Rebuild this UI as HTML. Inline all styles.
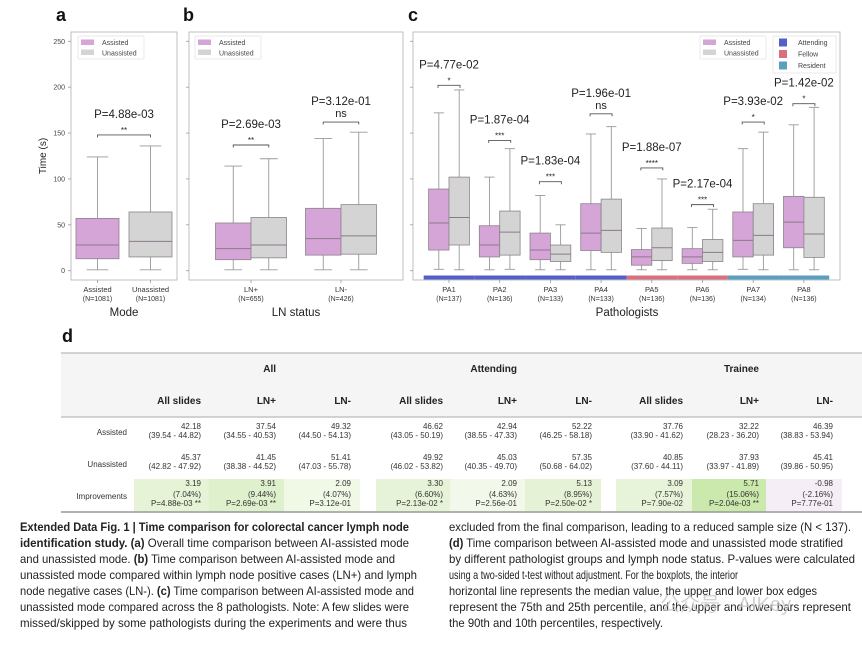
<!DOCTYPE html>
<html><head><meta charset="utf-8"><style>
html,body{margin:0;padding:0;background:#fff;}
svg{display:block;font-family:"Liberation Sans",sans-serif;}
</style></head><body>
<svg id="fig" width="862" height="646" viewBox="0 0 862 646" xmlns="http://www.w3.org/2000/svg">
<rect x="0" y="0" width="862" height="646" fill="#fff"/>
<g id="charts"></g>
<g id="table"></g>
<g id="caption"></g>
</svg>
<script>
// ---- data ----
const panelAcats = ["Assisted", "Unassisted"];
const panelAn = ["(N=1081)", "(N=1081)"];
// [low, q1, median, q3, high]
const panelAassisted = [[1, 13, 28, 57, 124]];
const panelAunassisted = [[1, 15, 32, 64, 136]];
const panelAp = ["P=4.88e-03"];
const panelAstars = ["**"];
const panelAbracket = [148];

const panelBcats = ["LN+", "LN-"];
const panelBn = ["(N=655)", "(N=426)"];
const panelBassisted = [[1, 12, 24, 52, 114], [1, 17, 35, 68, 144]];
const panelBunassisted = [[1, 14, 28, 58, 122], [1, 18, 38, 72, 151]];
const panelBp = ["P=2.69e-03", "P=3.12e-01"];
const panelBstars = ["**", "ns"];
const panelBbracket = [137, 162];

const panelCcats = ["PA1","PA2","PA3","PA4","PA5","PA6","PA7","PA8"];
const panelCn = ["(N=137)","(N=136)","(N=133)","(N=133)","(N=136)","(N=136)","(N=134)","(N=136)"];
const panelCassisted = [[1.5,22.5,52,89,172],[1,15,28,49,102],[1,12,22.5,41,82],[1,22,41,73,149],[1,6,15,23,46],[1,8,15,24,47],[1.5,15,33,64,133],[1,25,53,81,159]];
const panelCunassisted = [[1,28,58,102,197],[1.5,17,42,65,133],[1,10,18,28,50],[1,20,44,78,157],[1,11,25,46.5,100],[1,10,20,34,67],[1,17,38.5,73,151],[1,14.5,40,80,178]];
const panelCp = ["P=4.77e-02","P=1.87e-04","P=1.83e-04","P=1.96e-01","P=1.88e-07","P=2.17e-04","P=3.93e-02","P=1.42e-02"];
const panelCstars = ["*","***","***","ns","****","***","*","*"];
const panelCbracket = [202,142,97,171,112,72,162,182];
const panelCgroup = ["Attending","Attending","Attending","Attending","Fellow","Fellow","Resident","Resident"];
const yTicks = [0, 50, 100, 150, 200, 250];

const NS = "http://www.w3.org/2000/svg";
function mk(parent, tag, attrs, text) {
  const e = document.createElementNS(NS, tag);
  for (const k in attrs) e.setAttribute(k, attrs[k]);
  if (text !== undefined) e.textContent = text;
  parent.appendChild(e);
  return e;
}
function yScale(v) { return 270.7 - v * 0.9176; }
const PINK = "#d5a5d8", GRAY = "#d4d4d4", EDGE = "#8c828c";

const charts = document.getElementById("charts");

function frame(x0, x1, label, lx, axisLabels) {
  const f = mk(charts, "rect", {x:x0, y:32, width:x1-x0, height:248, fill:"none", stroke:"#b0b0b0", "stroke-width":0.8});
  
  
  const pl = mk(charts, "text", {x:lx, y:21, "font-size":18, "font-weight":"bold", fill:"#111"}, label);
  
  
  yTicks.forEach(t => {
    const tk = mk(charts, "line", {x1:x0-3, x2:x0, y1:yScale(t), y2:yScale(t), stroke:"#999", "stroke-width":0.8});
    
    
    if (axisLabels) {
      const tl = mk(charts, "text", {x:x0-6, y:yScale(t)+2.5, "font-size":7, "text-anchor":"end", fill:"#444"}, String(t));
      
      
    }
  });
}

function box(cx, w, d, fill, name) {
  const g = mk(charts, "g", {});
  
  
  const [lo, q1, md, q3, hi] = d;
  mk(g, "line", {x1:cx, x2:cx, y1:yScale(lo), y2:yScale(q1), stroke:"#999", "stroke-width":0.9});
  mk(g, "line", {x1:cx, x2:cx, y1:yScale(q3), y2:yScale(hi), stroke:"#999", "stroke-width":0.9});
  mk(g, "line", {x1:cx-w/4, x2:cx+w/4, y1:yScale(lo), y2:yScale(lo), stroke:"#999", "stroke-width":0.9});
  mk(g, "line", {x1:cx-w/4, x2:cx+w/4, y1:yScale(hi), y2:yScale(hi), stroke:"#999", "stroke-width":0.9});
  mk(g, "rect", {x:cx-w/2, y:yScale(q3), width:w, height:yScale(q1)-yScale(q3), fill:fill, stroke:EDGE, "stroke-width":0.8});
  mk(g, "line", {x1:cx-w/2, x2:cx+w/2, y1:yScale(md), y2:yScale(md), stroke:"#8a7a8a", "stroke-width":1});
}

function bracket(xa, xb, v, p, star) {
  const y = yScale(v);
  const g = mk(charts, "g", {});
  
  
  mk(g, "path", {d:`M${xa} ${y+2.5} L${xa} ${y} L${xb} ${y} L${xb} ${y+2.5}`, fill:"none", stroke:"#555", "stroke-width":0.9});
  const cx = (xa+xb)/2;
  mk(g, "text", {x:cx, y:y-17, "font-size":11.5, "text-anchor":"middle", fill:"#222"}, p);
  if (star === "ns") mk(g, "text", {x:cx, y:y-5, "font-size":11, "text-anchor":"middle", fill:"#222"}, star);
  else mk(g, "text", {x:cx, y:y-2, "font-size":8, "text-anchor":"middle", fill:"#222"}, star);
}

function xlabels(centers, cats, ns) {
  centers.forEach((c, i) => {
    const t = mk(charts, "text", {x:c, y:292, "font-size":7.5, "text-anchor":"middle", fill:"#333"}, cats[i]);
    
    
    const t2 = mk(charts, "text", {x:c, y:301, "font-size":7, "text-anchor":"middle", fill:"#333"}, ns[i]);
    
    
    mk(charts, "line", {x1:c, x2:c, y1:280, y2:283, stroke:"#999", "stroke-width":0.8});
  });
}

function legend(x, y) {
  const g = mk(charts, "g", {});
  
  
  mk(g, "rect", {x:x, y:y, width:66, height:23, fill:"#fff", stroke:"#e4e4e4", "stroke-width":0.8, rx:1.5});
  mk(g, "rect", {x:x+3, y:y+3.5, width:13, height:5.5, fill:PINK});
  mk(g, "rect", {x:x+3, y:y+13.5, width:13, height:5.5, fill:GRAY});
  mk(g, "text", {x:x+24, y:y+9, "font-size":7, fill:"#444"}, "Assisted");
  mk(g, "text", {x:x+24, y:y+19.5, "font-size":7, fill:"#444"}, "Unassisted");
}

// Panel a
frame(71, 177, "a", 56, true);
const yt = mk(charts, "text", {x:0, y:0, "font-size":10, "text-anchor":"middle", fill:"#222", transform:"translate(46,156) rotate(-90)"}, "Time (s)");


const aCenters = [97.5, 150.5];
box(aCenters[0], 43, panelAassisted[0], PINK, "box-assisted");
box(aCenters[1], 43, panelAunassisted[0], GRAY, "box-unassisted");
bracket(aCenters[0], aCenters[1], panelAbracket[0], panelAp[0], panelAstars[0]);
xlabels(aCenters, panelAcats, panelAn);
mk(charts, "text", {x:124, y:316, "font-size":11.5, "text-anchor":"middle", fill:"#222"}, "Mode");
legend(78, 36);

// Panel b
frame(189, 403, "b", 183, false);
const bCenters = panelBcats.map((_, i) => 251 + i * 90);
panelBcats.forEach((c, i) => {
  box(bCenters[i]-17.75, 35.5, panelBassisted[i], PINK, "box-assisted-" + c);
  box(bCenters[i]+17.75, 35.5, panelBunassisted[i], GRAY, "box-unassisted-" + c);
  bracket(bCenters[i]-17.75, bCenters[i]+17.75, panelBbracket[i], panelBp[i], panelBstars[i]);
});
xlabels(bCenters, panelBcats, panelBn);
mk(charts, "text", {x:296, y:316, "font-size":11.5, "text-anchor":"middle", fill:"#222"}, "LN status");
legend(195, 36);

// Panel c
frame(413, 840, "c", 408, false);
const cCenters = panelCcats.map((_, i) => 449 + i * 50.7);
const groupColor = {Attending:"#5460c8", Fellow:"#d8707e", Resident:"#5a9fc0"};
panelCcats.forEach((c, i) => {
  const gb = mk(charts, "rect", {x:cCenters[i]-25.35, y:275.5, width:50.7, height:4, fill:groupColor[panelCgroup[i]]});
  
  
});
panelCcats.forEach((c, i) => {
  box(cCenters[i]-10.2, 20.4, panelCassisted[i], PINK, "box-assisted-" + c);
  box(cCenters[i]+10.2, 20.4, panelCunassisted[i], GRAY, "box-unassisted-" + c);
  bracket(cCenters[i]-11, cCenters[i]+11, panelCbracket[i], panelCp[i], panelCstars[i]);
});
xlabels(cCenters, panelCcats, panelCn);
mk(charts, "text", {x:627, y:316, "font-size":11.5, "text-anchor":"middle", fill:"#222"}, "Pathologists");
legend(700, 36);
(function(){
  const g = mk(charts, "g", {});
  
  
  mk(g, "rect", {x:773, y:36, width:63, height:37, fill:"#fff", stroke:"#e4e4e4", "stroke-width":0.8});
  ["Attending","Fellow","Resident"].forEach((n, i) => {
    mk(g, "rect", {x:779, y:38.5+i*11.5, width:8, height:8, fill:groupColor[n]});
    mk(g, "text", {x:798, y:45+i*11.5, "font-size":7, fill:"#444"}, n);
  });
})();

// ---- table ----
const tableGroups = ["All", "Attending", "Trainee"];
const tableSub = ["All slides","LN+","LN-","All slides","LN+","LN-","All slides","LN+","LN-"];
const tableAssisted = ["42.18","37.54","49.32","46.62","42.94","52.22","37.76","32.22","46.39"];
const tableAssistedCI = ["(39.54 - 44.82)","(34.55 - 40.53)","(44.50 - 54.13)","(43.05 - 50.19)","(38.55 - 47.33)","(46.25 - 58.18)","(33.90 - 41.62)","(28.23 - 36.20)","(38.83 - 53.94)"];
const tableUnassisted = ["45.37","41.45","51.41","49.92","45.03","57.35","40.85","37.93","45.41"];
const tableUnassistedCI = ["(42.82 - 47.92)","(38.38 - 44.52)","(47.03 - 55.78)","(46.02 - 53.82)","(40.35 - 49.70)","(50.68 - 64.02)","(37.60 - 44.11)","(33.97 - 41.89)","(39.86 - 50.95)"];
const tableImp = ["3.19","3.91","2.09","3.30","2.09","5.13","3.09","5.71","-0.98"];
const tableImpPct = ["(7.04%)","(9.44%)","(4.07%)","(6.60%)","(4.63%)","(8.95%)","(7.57%)","(15.06%)","(-2.16%)"];
const tableImpP = ["P=4.88e-03 **","P=2.69e-03 **","P=3.12e-01","P=2.13e-02 *","P=2.56e-01","P=2.50e-02 *","P=7.90e-02","P=2.04e-03 **","P=7.77e-01"];

const T = document.getElementById("table");
const colR = [201,276,351,443,517,592,683,759,833];
const impBg = ["#e6f3d6","#dff0cc","#f0f8e6","#e7f3d8","#f2f8ea","#e5f2d6","#e8f4da","#cbe8ad","#f6eef6"];
const dl = mk(T, "text", {x:62, y:342, "font-size":18, "font-weight":"bold", fill:"#111"}, "d");

mk(T, "rect", {x:61, y:353, width:801, height:64, fill:"#f5f5f5"});
mk(T, "line", {x1:61, x2:862, y1:353, y2:353, stroke:"#aaa", "stroke-width":1});
mk(T, "line", {x1:61, x2:862, y1:417, y2:417, stroke:"#aaa", "stroke-width":1});
tableGroups.forEach((g, i) => {
  const t = mk(T, "text", {x:colR[i*3+1], y:372, "font-size":10, "font-weight":"bold", "text-anchor":"end", fill:"#222"}, g);
  
  
});
colR.forEach((r, i) => {
  mk(T, "rect", {x:r-67, y:479, width:76, height:33, fill:impBg[i]});
  const s = mk(T, "text", {x:r, y:404, "font-size":10, "font-weight":"bold", "text-anchor":"end", fill:"#222"}, tableSub[i]);
  
  
  const vals = [[tableAssisted[i],429],[tableAssistedCI[i],438],[tableUnassisted[i],460],[tableUnassistedCI[i],469],[tableImp[i],486],[tableImpPct[i],497],[tableImpP[i],506]];
  vals.forEach(([v, y]) => {
    const c = mk(T, "text", {x:r, y:y, "font-size":8, "text-anchor":"end", fill:"#333"}, v);
    
    
  });
});
[["Assisted",435],["Unassisted",467],["Improvements",499]].forEach(([n, y]) => {
  const t = mk(T, "text", {x:127, y:y, "font-size":8, "text-anchor":"end", fill:"#333"}, n);
  
  
});
mk(T, "line", {x1:61, x2:862, y1:512, y2:512, stroke:"#999", "stroke-width":1.5});

// ---- caption ----
const C = document.getElementById("caption");
const capLeft = [
  [[["b","Extended Data Fig. 1 | Time comparison for colorectal cancer lymph node"]],409],
  [[["b","identification study. (a)"],["n"," Overall time comparison between AI-assisted mode"]],409],
  [[["n","and unassisted mode. "],["b","(b)"],["n"," Time comparison between AI-assisted mode and"]],395],
  [[["n","unassisted mode compared within lymph node positive cases (LN+) and lymph"]],417],
  [[["n","node negative cases (LN-). "],["b","(c)"],["n"," Time comparison between AI-assisted mode and"]],414],
  [[["n","unassisted mode compared across the 8 pathologists. Note: A few slides were"]],409],
  [[["n","missed/skipped by some pathologists during the experiments and were thus"]],407]
];
const capRight = [
  [[["n","excluded from the final comparison, leading to a reduced sample size (N < 137)."]],851],
  [[["b","(d)"],["n"," Time comparison between AI-assisted mode and unassisted mode stratified"]],843],
  [[["n","by different pathologist groups and lymph node status. P-values were calculated"]],855],
  [[["n","using a two-sided t-test without adjustment. For the boxplots, the interior"]],738],
  [[["n","horizontal line represents the median value, the upper and lower box edges"]],817],
  [[["n","represent the 75th and 25th percentile, and the upper and lower bars represent"]],851],
  [[["n","the 90th and 10th percentiles, respectively."]],663]
];
function capCol(lines, x0) {
  lines.forEach(([parts, xe], i) => {
    const t = mk(C, "text", {x:x0, y:531 + i*16, "font-size":12, fill:"#222", textLength:xe-x0, lengthAdjust:"spacingAndGlyphs"});
    
    
    parts.forEach(([w, s]) => {
      const sp = mk(t, "tspan", w === "b" ? {"font-weight":"bold"} : {}, s);
    });
  });
}
capCol(capLeft, 20);
capCol(capRight, 449);
const wm = mk(C, "text", {x:660, y:611, "font-size":20, fill:"#c8c8c8", "font-family":"'Liberation Sans','Noto Sans CJK SC',sans-serif", opacity:0.8}, "公众号 · AIKey");


</script>
</body></html>
